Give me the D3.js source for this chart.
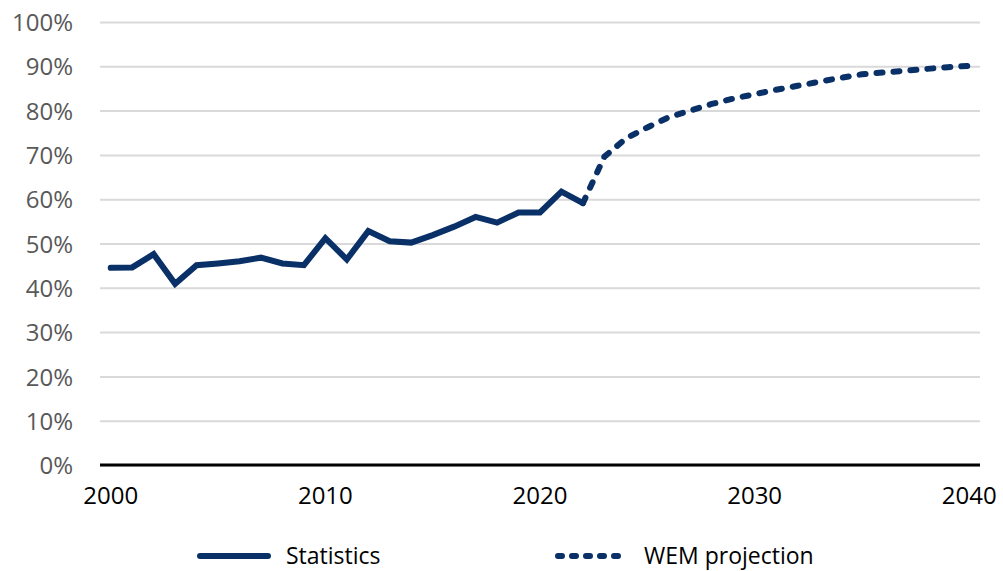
<!DOCTYPE html>
<html>
<head>
<meta charset="utf-8">
<script src="https://cdn.jsdelivr.net/npm/d3@7"></script>
<style>
    body { margin: 0; background: #fff; }
    svg text { font-family: 'Open Sans', 'Noto Sans', sans-serif; }
</style>
</head>
<body>
<div id="chart"></div>
<script>
// share of values, in percent
const statYears = d3.range(2000, 2023);
const statValues = [44.5, 44.6, 47.6, 40.9, 45.1, 45.5, 46.0, 46.8, 45.5, 45.1,
                    51.2, 46.4, 52.8, 50.5, 50.2, 51.9, 53.8, 56.0, 54.7, 57.0,
                    57.0, 61.7, 59.1];
const projYears = d3.range(2022, 2041);
const projValues = [59.1, 69.6, 73.7, 76.2, 78.5, 80.0, 81.5, 82.7, 83.7, 84.7,
                    85.6, 86.5, 87.4, 88.2, 88.6, 89.0, 89.4, 89.8, 90.1];
const xTickYears = [2000, 2010, 2020, 2030, 2040];
const yTicks = [0, 10, 20, 30, 40, 50, 60, 70, 80, 90, 100];
const seriesNames = ['Statistics', 'WEM projection'];

function drawChart() {
    let width = 1003,
        height = 571,
        margin = {top: 22, right: 23, bottom: 106, left: 100},
        navy = '#0a3068',
        svg = d3.select('#chart').append('svg')
                .attr('width', width)
                .attr('height', height);

    let xScale = d3.scaleBand()
                   .domain(d3.range(2000, 2041))
                   .range([margin.left, width - margin.right]);
    let xc = d => xScale(d) + xScale.bandwidth() / 2;
    let yScale = d3.scaleLinear()
                   .domain([0, 100])
                   .range([height - margin.bottom, margin.top]);

    // gridlines
    let yAxis = d3.axisLeft(yScale)
                  .tickValues(yTicks)
                  .tickSize(-(width - margin.left - margin.right))
                  .tickPadding(27)
                  .tickFormat(d => d + '%');
    let yg = svg.append('g')
                .attr('transform', `translate(${margin.left},0)`)
                .call(yAxis);
    yg.select('.domain').remove();
    yg.selectAll('.tick line').attr('stroke', '#d9d9d9').attr('stroke-width', 2);
    yg.selectAll('.tick text')
      .attr('fill', '#595959')
      .attr('font-size', 24)
      .attr('dy', '0.36em');

    // x axis
    let xAxis = d3.axisBottom(xScale)
                  .tickValues(xTickYears)
                  .tickSize(0)
                  .tickPadding(22);
    let xg = svg.append('g')
                .attr('transform', `translate(0,${yScale(0)})`)
                .call(xAxis);
    xg.select('.domain').remove();
    xg.selectAll('.tick text').attr('fill', '#000').attr('font-size', 24);
    svg.append('line')
       .attr('x1', margin.left).attr('x2', width - margin.right)
       .attr('y1', yScale(0)).attr('y2', yScale(0))
       .attr('stroke', '#000').attr('stroke-width', 3);

    let line = d3.line()
                 .x(d => xc(d[0]))
                 .y(d => yScale(d[1]));

    svg.append('path')
       .datum(d3.zip(projYears, projValues))
       .attr('d', line)
       .attr('fill', 'none')
       .attr('stroke', navy)
       .attr('stroke-width', 6)
       .attr('stroke-linecap', 'round')
       .attr('stroke-dasharray', '6,11');

    svg.append('path')
       .datum(d3.zip(statYears, statValues))
       .attr('d', line)
       .attr('fill', 'none')
       .attr('stroke', navy)
       .attr('stroke-width', 6)
       .attr('stroke-linejoin', 'miter')
       .attr('stroke-linecap', 'round');

    // legend
    let legend = svg.append('g').attr('transform', 'translate(0,556)');
    let items = [{x: 200, dash: null}, {x: 558, dash: '4,10'}];
    items.forEach((it, i) => {
        legend.append('line')
              .attr('x1', it.x).attr('x2', it.x + 68)
              .attr('y1', 0).attr('y2', 0)
              .attr('stroke', navy)
              .attr('stroke-width', 6)
              .attr('stroke-linecap', 'round')
              .attr('stroke-dasharray', it.dash);
        legend.append('text')
              .attr('x', it.x + 86)
              .attr('y', 8)
              .attr('font-size', 23)
              .attr('fill', '#000')
              .text(seriesNames[i]);
    });
}

drawChart();
</script>
</body>
</html>
